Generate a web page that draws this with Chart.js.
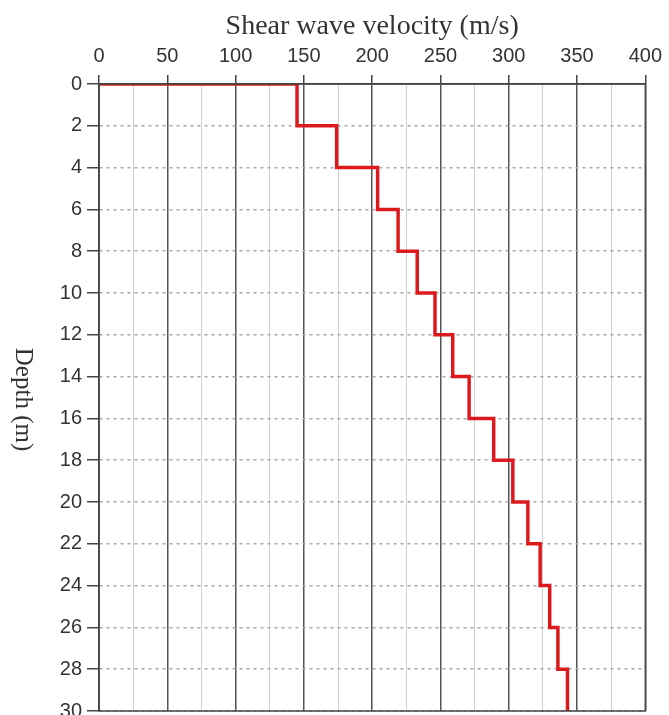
<!DOCTYPE html>
<html>
<head>
<meta charset="utf-8">
<script src="https://cdn.jsdelivr.net/npm/chart.js@4.4.1/dist/chart.umd.min.js"></script>
<style>
  html, body { margin: 0; padding: 0; background: #fff; }
  #wrap { width: 669px; height: 715px; }
</style>
</head>
<body>
<div id="wrap"><canvas id="vsChart"></canvas></div>
<script>
// layer tops and bottoms (m) and shear wave velocity of each layer (m/s)
const layerTop = [0, 2, 4, 6, 8, 10, 12, 14, 16, 18, 20, 22, 24, 26, 28];
const layerBottom = [2, 4, 6, 8, 10, 12, 14, 16, 18, 20, 22, 24, 26, 28, 30];
const velocity = [145, 174, 204, 219, 233, 246, 259, 271, 289, 303, 314, 323, 330, 336, 343];
const xTicks = [0, 50, 100, 150, 200, 250, 300, 350, 400];
const yTicks = [0, 2, 4, 6, 8, 10, 12, 14, 16, 18, 20, 22, 24, 26, 28, 30];

// step profile: start at the surface from 0 m/s
const profile = [{ x: 0, y: layerTop[0] }];
velocity.forEach((v, i) => {
  profile.push({ x: v, y: layerTop[i] });
  profile.push({ x: v, y: layerBottom[i] });
});

// dark frame around the plot area + y title reading top to bottom
const frame = {
  id: "frame",
  afterDatasetsDraw(chart) {
    const a = chart.chartArea;
    const ctx = chart.ctx;
    ctx.save();
    ctx.strokeStyle = "#444";
    ctx.lineWidth = 1.5;
    ctx.strokeRect(a.left, a.top, a.right - a.left, a.bottom - a.top);
    ctx.restore();

    ctx.save();
    ctx.translate(23, (a.top + a.bottom) / 2 + 2);
    ctx.rotate(Math.PI / 2);
    ctx.fillStyle = "#333";
    ctx.font = "25px 'Liberation Serif', 'Times New Roman', serif";
    ctx.textAlign = "center";
    ctx.textBaseline = "middle";
    ctx.fillText("Depth (m)", 0, 0);
    ctx.restore();
  }
};

new Chart(document.getElementById("vsChart"), {
  type: "scatter",
  data: {
    datasets: [{
      data: profile,
      showLine: true,
      borderColor: "#dc1a1e",
      borderWidth: 3.5,
      pointRadius: 0,
      tension: 0
    }]
  },
  plugins: [frame],
  options: {
    responsive: true,
    maintainAspectRatio: false,
    animation: false,
    layout: { padding: { right: 23, bottom: 4 } },
    plugins: {
      legend: { display: false },
      tooltip: { enabled: false }
    },
    scales: {
      x: {
        type: "linear",
        position: "top",
        min: 0,
        max: 400,
        afterBuildTicks: (scale) => {
          const t = [];
          for (let v = 0; v <= 400; v += 25) t.push({ value: v });
          scale.ticks = t;
        },
        afterFit: (scale) => { scale.height = 84; },
        ticks: {
          autoSkip: false,
          maxRotation: 0,
          padding: 7,
          color: "#333",
          font: { family: "Liberation Sans, Arial", size: 20 },
          callback: (v) => (xTicks.includes(v) ? v : "")
        },
        grid: {
          drawTicks: true,
          tickLength: 9,
          color: (c) => (c.tick && c.tick.value % 50 === 0 ? "#555" : "#d0d0d0"),
          tickColor: (c) => (c.tick && c.tick.value % 50 === 0 ? "#444" : "rgba(0,0,0,0)"),
          lineWidth: (c) => (c.tick && c.tick.value % 50 === 0 ? 1.5 : 1)
        },
        border: { color: "#444", width: 1.5 },
        title: {
          display: true,
          text: "Shear wave velocity (m/s)",
          color: "#333",
          font: { family: "Liberation Serif, Times New Roman", size: 28 },
          padding: { top: 10, bottom: 0 }
        }
      },
      y: {
        type: "linear",
        reverse: true,
        min: 0,
        max: 30,
        afterBuildTicks: (scale) => { scale.ticks = yTicks.map((v) => ({ value: v })); },
        afterFit: (scale) => {
          scale.width = 99;
          scale.paddingTop = 0;
          scale.paddingBottom = 0;
        },
        ticks: {
          autoSkip: false,
          padding: 5,
          color: "#333",
          font: { family: "Liberation Sans, Arial", size: 20 }
        },
        grid: {
          drawTicks: true,
          tickLength: 12,
          color: "#a8a8a8",
          tickColor: "#444",
          lineWidth: 1.5
        },
        border: { color: "#444", width: 1.5, dash: [3, 4] }
      }
    }
  }
});
</script>
</body>
</html>
